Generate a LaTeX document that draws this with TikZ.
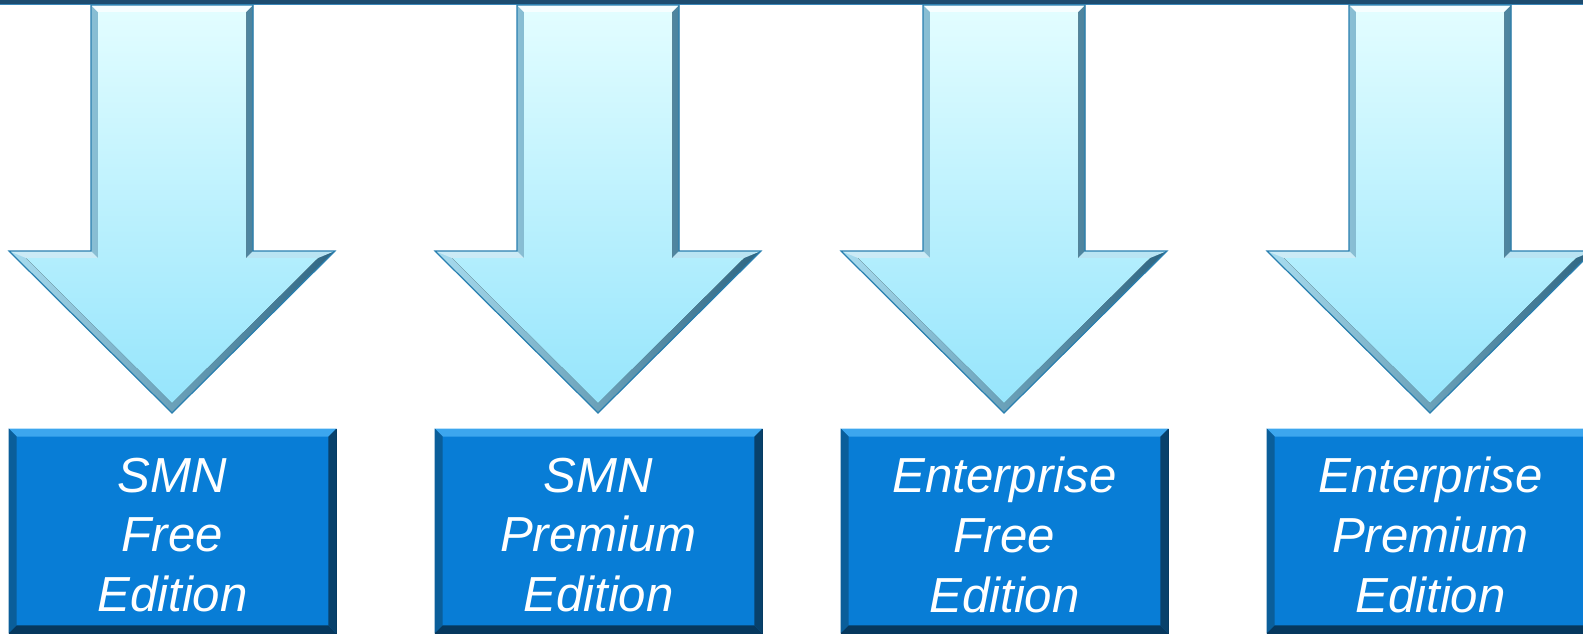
\documentclass[tikz,border=0pt]{standalone}
\usepackage{fontspec}
\setmainfont{Liberation Sans}
\usetikzlibrary{calc}
\definecolor{barblue}{HTML}{1D4C70}
\definecolor{barline}{HTML}{3A86B8}
\definecolor{arrtop}{HTML}{E2FDFF}
\definecolor{arrbot}{HTML}{96E5FC}
\definecolor{arrlite}{HTML}{A8DDF0}
\definecolor{arrdark}{HTML}{2E6582}
\definecolor{arredge}{HTML}{2A80B0}
\definecolor{boxblue}{HTML}{087DD6}
\definecolor{boxtop}{HTML}{3CA6EE}
\definecolor{boxleft}{HTML}{0A5E9A}
\definecolor{boxright}{HTML}{08416B}
\definecolor{boxbot}{HTML}{06385E}

\begin{document}
\begin{tikzpicture}[x=0.02cm,y=-0.02cm,
    edbox/.style={rectangle,fill=boxblue,draw=boxbot,line width=0.5pt,minimum width=6.54cm,minimum height=4.08cm,inner sep=0pt,
      text=white,align=center,font=\itshape\fontsize{28}{34}\selectfont}]
    \useasboundingbox (0,0) rectangle (1583,633);
    \fill[barblue] (0,0) rectangle (1583,4.5);
    \draw[barline,line width=0.6pt] (0,4.5)--(1583,4.5);
    \foreach \cx/\name/\txt in {172/smnfree/{SMN\\Free\\Edition},598/smnprem/{SMN\\Premium\\Edition},1004/entfree/{Enterprise\\Free\\Edition},1430/entprem/{Enterprise\\Premium\\Edition}}{
    \fill[left color=arrlite,right color=arrdark]({\cx-81},5)--({\cx+81},5)--({\cx+81},251)--({\cx+163},251)--(\cx,413)--({\cx-163},251)--({\cx-81},251)--cycle;
    \fill[white!70!arrtop]({\cx-81},5)--({\cx+81},5)--({\cx+74},12)--({\cx-74},12)--cycle;
    \fill[arrlite!60!white]({\cx-163},251)--({\cx-81},251)--({\cx-74},258)--({\cx-146},258)--cycle;
    \fill[arrlite!80!white]({\cx+81},251)--({\cx+163},251)--({\cx+146},258)--({\cx+74},258)--cycle;
    \fill[top color=arrtop,bottom color=arrbot]({\cx-74},12)--({\cx+74},12)--({\cx+74},258)--({\cx+146},258)--(\cx,403)--({\cx-146},258)--({\cx-74},258)--cycle;
    \draw[arredge,line width=0.7pt,line join=miter]({\cx-81},5)--({\cx+81},5)--({\cx+81},251)--({\cx+163},251)--(\cx,413)--({\cx-163},251)--({\cx-81},251)--cycle;
    \node[edbox] (\name) at ({\cx+0.5},531) {};
    \node[text=white,align=center,font=\itshape\fontsize{28}{34}\selectfont,inner sep=0pt] (\name txt) at ({\cx+0.5},535) {\txt};
    \fill[boxtop]($(\name.north west)$)--($(\name.north east)$)--([shift={(-8,8)}]\name.north east)--([shift={(8,8)}]\name.north west)--cycle;
    \fill[boxleft]($(\name.north west)$)--([shift={(8,8)}]\name.north west)--([shift={(8,-8)}]\name.south west)--($(\name.south west)$)--cycle;
    \fill[boxright]($(\name.north east)$)--([shift={(-8,8)}]\name.north east)--([shift={(-8,-8)}]\name.south east)--($(\name.south east)$)--cycle;
    \fill[boxbot]($(\name.south west)$)--([shift={(8,-8)}]\name.south west)--([shift={(-8,-8)}]\name.south east)--($(\name.south east)$)--cycle;
    }
\end{tikzpicture}
\end{document}
